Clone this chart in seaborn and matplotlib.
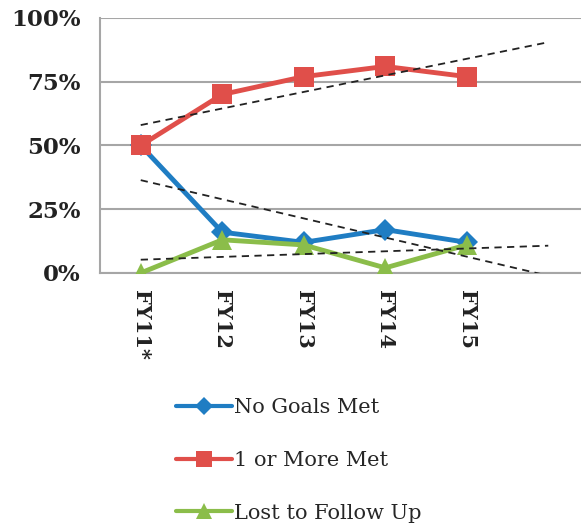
import numpy as np
import pandas as pd
import matplotlib
matplotlib.use('Agg')
import matplotlib.pyplot as plt
import seaborn as sns

sns.set_style('white')
plt.rcParams['font.family'] = ['DejaVu Serif']

years = ['FY11*', 'FY12', 'FY13', 'FY14', 'FY15']
no_goals = [50, 16, 12, 17, 12]
one_or_more = [50, 70, 77, 81, 77]
lost = [0, 13, 11, 2, 11]

series = [
    ('No Goals Met', no_goals, '#1f7dc3', 'D', 11),
    ('1 or More Met', one_or_more, '#e04f4a', 's', 14),
    ('Lost to Follow Up', lost, '#8bbd4a', '^', 14),
]

fig = plt.figure(figsize=(5.81, 5.29), dpi=100)
ax = fig.add_axes([0.1721, 0.484, 0.8417, 0.482])

xs = np.arange(len(years))
for name, vals, col, mk, ms in series:
    df = pd.DataFrame({'x': xs, 'y': vals})
    sns.lineplot(data=df, x='x', y='y', ax=ax, color=col, linewidth=3.5,
                 marker=mk, markersize=ms, markeredgewidth=0, label=name,
                 zorder=3)

# linear trendlines, forecast one period ahead (like Excel)
xt = np.arange(len(years) + 1)
for name, vals, col, mk, ms in series:
    k, b = np.polyfit(xs, vals, 1)
    ax.plot(xt, k * xt + b, color='#222222', linestyle=(0, (4, 3)),
            linewidth=1.3, zorder=4)

ax.set_xlim(-0.5, 5.5)
ax.set_ylim(0, 100)
ax.set_yticks([0, 25, 50, 75, 100])
ax.set_yticklabels(['0%', '25%', '50%', '75%', '100%'],
                   fontsize=16.5, fontweight='bold', color='#222222')
ax.set_xticks(xs)
ax.set_xticklabels(years, rotation=-90, fontsize=15, fontweight='bold',
                   color='#222222')
ax.set_xticks(np.arange(-0.5, 6, 1), minor=True)
ax.tick_params(axis='x', which='major', length=0, pad=12)
ax.tick_params(axis='x', which='minor', length=8, width=1.2, color='#a0a0a0',
               direction='out')
ax.tick_params(axis='y', length=8, width=1.2, color='#a0a0a0',
               direction='out', pad=6)
ax.yaxis.grid(True, color='#a6a6a6', linewidth=1.5)
ax.set_axisbelow(True)
ax.set_xlabel('')
ax.set_ylabel('')
for s in ['top', 'right']:
    ax.spines[s].set_visible(False)
for s in ['left', 'bottom']:
    ax.spines[s].set_color('#a6a6a6')
    ax.spines[s].set_linewidth(1.5)
ax.spines['bottom'].set_zorder(2)

handles, labels = ax.get_legend_handles_labels()
ax.get_legend().remove()
leg = fig.legend(handles, labels, loc='upper left', bbox_to_anchor=(0.288, 0.263),
                 frameon=False, fontsize=15, handlelength=2.7, handletextpad=0.1,
                 labelspacing=1.62, borderaxespad=0, markerscale=0.8)
for h in leg.legend_handles:
    h.set_linewidth(3)

fig.savefig('out.png', dpi=100)
